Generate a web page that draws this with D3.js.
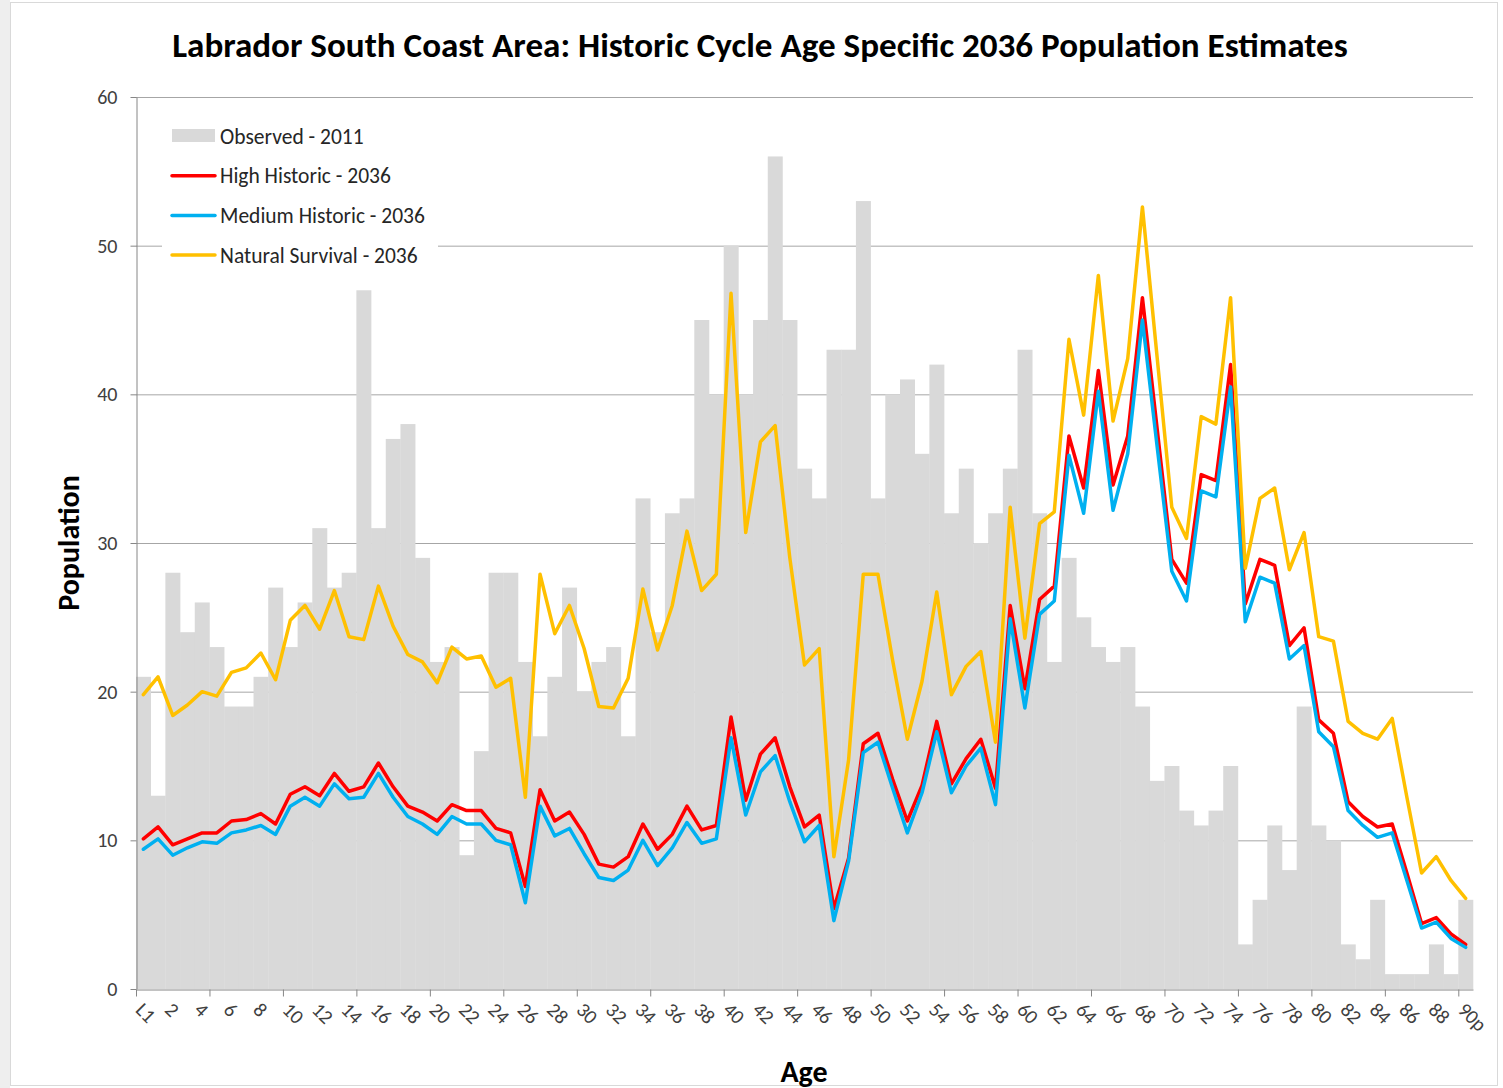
<!DOCTYPE html>
<html>
<head>
<meta charset="utf-8">
<script src="https://cdn.jsdelivr.net/npm/d3@7"></script>
<style>
  body { margin: 0; background: #fff; }
  text { font-family: Carlito, Calibri, Lato, "Open Sans", sans-serif; }
</style>
</head>
<body>
<svg id="chart" width="1503" height="1088"></svg>
<script>
// Age groups (L1 = under one year, 90p = 90 and over)
const ages = ['L1', ...d3.range(1, 90).map(String), '90p'];

// Observed 2011 population by single year of age
const observed = [21, 13, 28, 24, 26, 23, 19, 19, 21, 27,
  23, 26, 31, 27, 28, 47, 31, 37, 38, 29,
  22, 23, 9, 16, 28, 28, 22, 17, 21, 27,
  20, 22, 23, 17, 33, 24, 32, 33, 45, 40,
  50, 40, 45, 56, 45, 35, 33, 43, 43, 53,
  33, 40, 41, 36, 42, 32, 35, 30, 32, 35,
  43, 32, 22, 29, 25, 23, 22, 23, 19, 14,
  15, 12, 11, 12, 15, 3, 6, 11, 8, 19,
  11, 10, 3, 2, 6, 1, 1, 1, 3, 1,
  6];

const highHistoric = [10.1, 10.9, 9.7, 10.1, 10.5, 10.5, 11.3, 11.4, 11.8, 11.1,
  13.1, 13.6, 13.0, 14.5, 13.3, 13.6, 15.2, 13.6, 12.3, 11.9,
  11.3, 12.4, 12.0, 12.0, 10.8, 10.5, 6.9, 13.4, 11.3, 11.9,
  10.4, 8.4, 8.2, 8.9, 11.1, 9.4, 10.4, 12.3, 10.7, 11.0,
  18.3, 12.7, 15.8, 16.9, 13.6, 10.9, 11.7, 5.4, 8.8, 16.5,
  17.2, 14.1, 11.3, 13.7, 18.0, 13.8, 15.5, 16.8, 13.5, 25.8,
  20.2, 26.2, 27.1, 37.2, 33.7, 41.6, 33.9, 37.2, 46.5, 37.7,
  28.9, 27.3, 34.6, 34.2, 42.0, 25.9, 28.9, 28.5, 23.1, 24.3,
  18.1, 17.2, 12.6, 11.6, 10.9, 11.1, 7.8, 4.4, 4.8, 3.7,
  3.0];

const mediumHistoric = [9.4, 10.1, 9.0, 9.5, 9.9, 9.8, 10.5, 10.7, 11.0, 10.4,
  12.3, 12.9, 12.3, 13.8, 12.8, 12.9, 14.5, 12.9, 11.6, 11.1,
  10.4, 11.6, 11.1, 11.1, 10.0, 9.7, 5.8, 12.3, 10.3, 10.8,
  9.1, 7.5, 7.3, 8.0, 10.0, 8.3, 9.5, 11.2, 9.8, 10.1,
  16.9, 11.7, 14.6, 15.7, 12.6, 9.9, 11.0, 4.6, 8.6, 15.9,
  16.6, 13.5, 10.5, 13.2, 17.3, 13.2, 15.0, 16.2, 12.4, 24.9,
  18.9, 25.2, 26.1, 35.9, 32.0, 40.2, 32.2, 36.0, 45.0, 36.5,
  28.1, 26.1, 33.5, 33.1, 40.5, 24.7, 27.7, 27.3, 22.2, 23.1,
  17.3, 16.3, 12.0, 11.0, 10.2, 10.5, 7.3, 4.1, 4.5, 3.4,
  2.8];

const naturalSurvival = [19.8, 21.0, 18.4, 19.1, 20.0, 19.7, 21.3, 21.6, 22.6, 20.8,
  24.8, 25.8, 24.2, 26.8, 23.7, 23.5, 27.1, 24.4, 22.5, 22.0,
  20.6, 23.0, 22.2, 22.4, 20.3, 20.9, 12.9, 27.9, 23.9, 25.8,
  22.9, 19.0, 18.9, 20.9, 26.9, 22.8, 25.8, 30.8, 26.8, 27.9,
  46.8, 30.7, 36.8, 37.9, 29.0, 21.8, 22.9, 8.9, 15.4, 27.9,
  27.9, 22.1, 16.8, 20.7, 26.7, 19.8, 21.7, 22.7, 16.6, 32.4,
  23.6, 31.3, 32.1, 43.7, 38.6, 48.0, 38.2, 42.4, 52.6, 42.5,
  32.4, 30.3, 38.5, 38.0, 46.5, 28.3, 33.0, 33.7, 28.2, 30.7,
  23.7, 23.4, 18.0, 17.2, 16.8, 18.2, 12.9, 7.8, 8.9, 7.3,
  6.1];

const yTicks = [0, 10, 20, 30, 40, 50, 60];

const lineSeries = [
  { name: 'High Historic - 2036', values: highHistoric, color: '#FF0000' },
  { name: 'Medium Historic - 2036', values: mediumHistoric, color: '#00B0F0' },
  { name: 'Natural Survival - 2036', values: naturalSurvival, color: '#FFC000' }
];

const svg = d3.select('#chart');
const plot = { left: 136, right: 1473, top: 97, bottom: 989 };
const labelFont = 'Carlito, Calibri, Lato, sans-serif';

// frame
svg.append('rect').attr('x', 0).attr('y', 0).attr('width', 10).attr('height', 1088).attr('fill', '#eeeeee');
svg.append('rect').attr('x', 10.5).attr('y', 2.5).attr('width', 1487).attr('height', 1083)
  .attr('fill', 'none').attr('stroke', '#d9d9d9');

const x = d3.scaleBand().domain(ages).range([plot.left, plot.right]).padding(0);
const xIdx = d3.scaleLinear().domain([0, ages.length]).range([plot.left, plot.right]);
const y = d3.scaleLinear().domain([0, 60]).range([plot.bottom, plot.top]);

// gridlines
svg.append('g')
  .selectAll('line')
  .data(yTicks.filter(d => d > 0))
  .enter()
  .append('line')
  .attr('x1', plot.left)
  .attr('x2', plot.right)
  .attr('y1', d => y(d) + 0.5)
  .attr('y2', d => y(d) + 0.5)
  .attr('stroke', '#a6a6a6')
  .attr('stroke-width', 1);

// observed bars
svg.append('g')
  .selectAll('rect')
  .data(observed)
  .enter()
  .append('rect')
  .attr('x', (d, i) => x(ages[i]))
  .attr('y', d => y(d))
  .attr('width', x.bandwidth() + 0.3)
  .attr('height', d => plot.bottom - y(d))
  .attr('fill', '#D9D9D9');

// y axis
const yAxis = svg.append('g')
  .attr('transform', `translate(${plot.left + 0.5},0)`)
  .call(d3.axisLeft(y).tickValues(yTicks).tickSize(6).tickSizeOuter(0).tickPadding(13));
yAxis.select('.domain').attr('stroke', '#868686');
yAxis.selectAll('.tick line').attr('stroke', '#868686');
yAxis.selectAll('text').attr('font-size', 20).attr('fill', '#404040')
  .style('font-family', labelFont);

// x axis: tick marks every 5 ages
const xTickAxis = svg.append('g')
  .attr('transform', `translate(0,${plot.bottom + 0.5})`)
  .call(d3.axisBottom(xIdx).tickValues(d3.range(0, ages.length, 5)).tickSize(7).tickSizeOuter(0).tickFormat(''));
xTickAxis.select('.domain').attr('stroke', '#868686');
xTickAxis.selectAll('.tick line').attr('stroke', '#868686');

// x axis: labels every 2 ages
const xLabelAxis = svg.append('g')
  .attr('transform', `translate(0,${plot.bottom})`)
  .call(d3.axisBottom(x).tickValues(ages.filter((d, i) => i % 2 === 0)).tickSize(0));
xLabelAxis.select('.domain').remove();
xLabelAxis.selectAll('text')
  .attr('x', 0)
  .attr('y', 0)
  .attr('dy', '0.35em')
  .attr('text-anchor', 'start')
  .attr('transform', 'translate(-4,17) rotate(45)')
  .attr('font-size', 20)
  .attr('fill', '#404040')
  .style('font-family', labelFont);

// projection lines
const line = d3.line()
  .x((d, i) => x(ages[i]) + x.bandwidth() / 2)
  .y(d => y(d));

svg.append('g')
  .selectAll('path')
  .data(lineSeries)
  .enter()
  .append('path')
  .attr('d', d => line(d.values))
  .attr('fill', 'none')
  .attr('stroke', d => d.color)
  .attr('stroke-width', 3.5)
  .attr('stroke-linejoin', 'round')
  .attr('stroke-linecap', 'round');

// legend
const legend = svg.append('g');
legend.append('rect')
  .attr('x', 162).attr('y', 113).attr('width', 276).attr('height', 160)
  .attr('fill', '#ffffff');

const legendItems = [{ name: 'Observed - 2011', type: 'bar', color: '#D9D9D9' }]
  .concat(lineSeries.map(s => ({ name: s.name, type: 'line', color: s.color })));

const legendRows = legend.selectAll('g.item')
  .data(legendItems)
  .enter()
  .append('g')
  .attr('class', 'item')
  .attr('transform', (d, i) => `translate(172,${136 + i * 39.7})`);

legendRows.filter(d => d.type === 'bar')
  .append('rect')
  .attr('x', 0).attr('y', -7).attr('width', 43).attr('height', 13)
  .attr('fill', d => d.color);

legendRows.filter(d => d.type === 'line')
  .append('line')
  .attr('x1', 0).attr('x2', 43).attr('y1', 0).attr('y2', 0)
  .attr('stroke', d => d.color)
  .attr('stroke-width', 3.5)
  .attr('stroke-linecap', 'round');

legendRows.append('text')
  .attr('x', 48)
  .attr('y', 0)
  .attr('dy', '0.35em')
  .attr('font-size', 21.5)
  .attr('fill', '#262626')
  .text(d => d.name);

// title
const title = svg.append('text')
  .attr('x', 760)
  .attr('y', 45)
  .attr('dy', '0.35em')
  .attr('text-anchor', 'middle')
  .attr('font-weight', 'bold')
  .attr('font-size', 30)
  .attr('fill', '#000')
  .text('Labrador South Coast Area: Historic Cycle Age Specific 2036 Population Estimates');
const tw = title.node().getComputedTextLength();
title.attr('font-size', 30 * 1176 / tw);

// axis titles
svg.append('text')
  .attr('transform', 'translate(68,543) rotate(-90)')
  .attr('text-anchor', 'middle')
  .attr('dy', '0.35em')
  .attr('font-weight', 'bold')
  .attr('font-size', 30)
  .text('Population');

svg.append('text')
  .attr('x', 804)
  .attr('y', 1071)
  .attr('dy', '0.35em')
  .attr('text-anchor', 'middle')
  .attr('font-weight', 'bold')
  .attr('font-size', 30)
  .text('Age');
</script>
</body>
</html>
